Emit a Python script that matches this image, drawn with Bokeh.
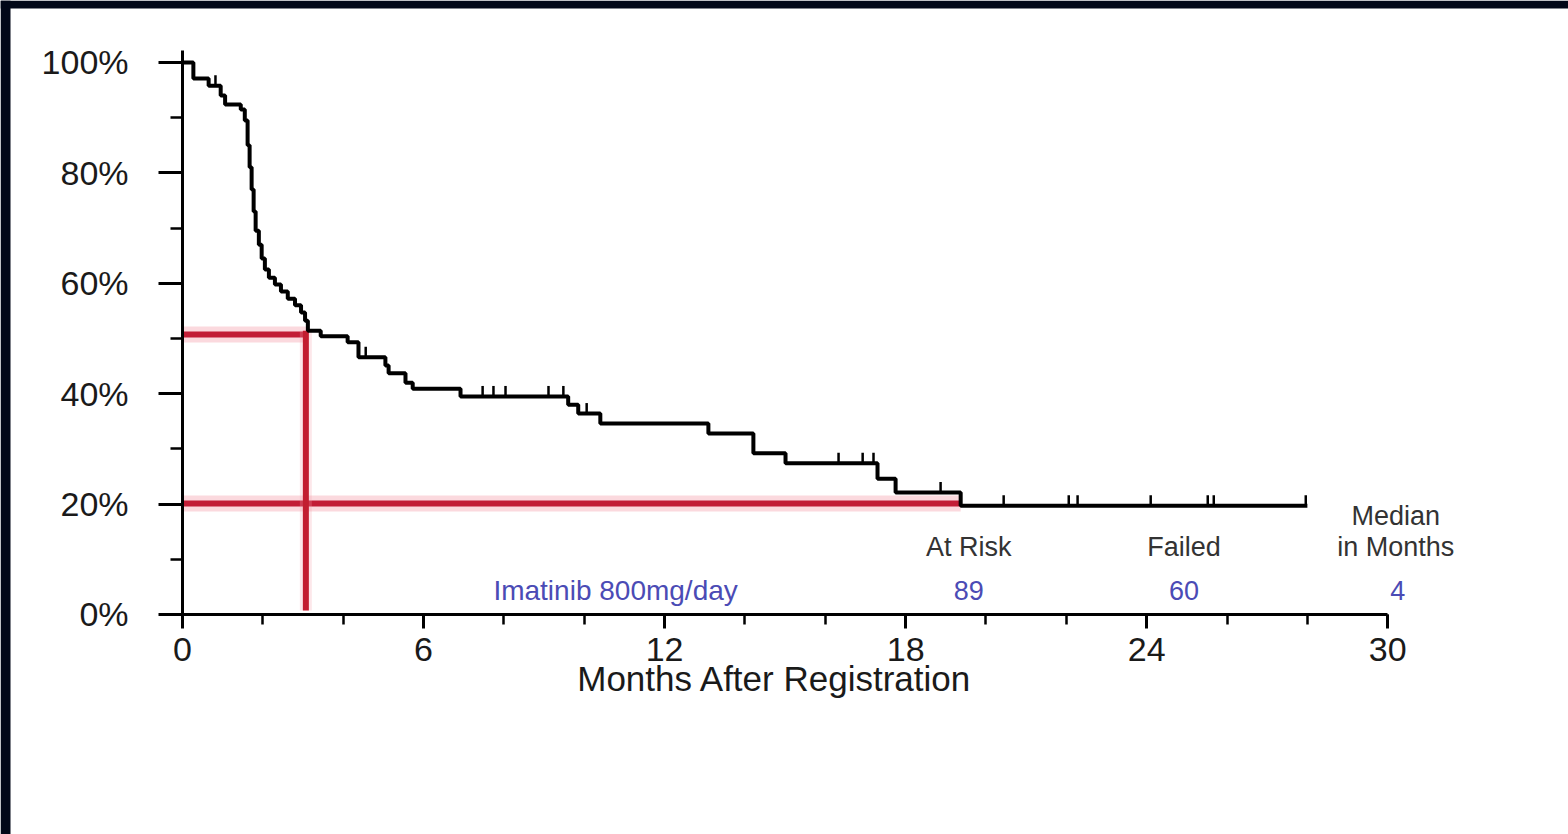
from bokeh.plotting import figure
from bokeh.models import (ColumnDataSource, Range1d, SingleIntervalTicker,
                          PrintfTickFormatter, BoxAnnotation)
from bokeh.core.properties import value
from bokeh.embed import file_html
from bokeh.resources import INLINE
import numpy as np

# ---------------- data ----------------
event_months = [0, 0.27, 0.65, 0.95, 1.06, 1.45, 1.55, 1.62, 1.67, 1.72, 1.77,
                1.82, 1.90, 1.97, 2.05, 2.15, 2.30, 2.45, 2.62, 2.80, 2.95,
                3.05, 3.12, 3.44, 4.11, 4.38, 5.05, 5.13, 5.55, 5.73, 6.92,
                9.60, 9.85, 10.40, 13.09, 14.21, 15.01, 17.30, 17.75, 19.37]
survival_pct = [100, 97.1, 95.8, 94.0, 92.4, 91.5, 89.5, 85.0, 81.0, 77.0, 73.0,
                69.5, 67.0, 64.5, 62.5, 61.0, 59.8, 58.5, 57.2, 56.0, 54.7,
                53.2, 51.4, 50.4, 49.3, 46.6, 45.1, 43.7, 42.0, 40.9, 39.5,
                38.0, 36.4, 34.6, 32.8, 29.2, 27.4, 24.6, 22.1, 19.7]
follow_up_end = 28.0
censor_months = [0.82, 4.56, 7.47, 7.74, 8.04, 9.11, 9.48, 10.06, 16.33, 16.93,
                 17.20, 18.87, 20.44, 22.06, 22.28, 24.10, 25.52, 25.67, 27.96]

# red guide lines
median_month = 3.07
median_pct = 50.7
median_top = 51.4
pct20 = 20.1
pct20_month = 19.37

# table
group_label = "Imatinib 800mg/day"
group_label_month = 10.78
table_headers = ["At Risk", "Failed", "Median", "in Months"]
table_header_x = [19.57, 24.93, 30.2, 30.2]
table_header_y = [12.3, 12.3, 17.75, 12.3]
table_values = ["89", "60", "4"]
table_value_x = [19.57, 24.93, 30.25]
row_y = 4.35

x_title = "Months After Registration"
x_title_pos = (14.74, -11.6)
x_ticks_interval = 6
y_ticks_interval = 20

# ---------------- styling / layout constants ----------------
DARK = "#020818"
FONT = "Liberation Sans"
BLUE = "#4b4bb5"
W, H = 1568, 834
X0, X1 = -4.531, 34.50          # month range spanning the whole canvas
Y0, Y1 = -39.86, 111.23         # percent range spanning the whole canvas
px_per_x = W / (X1 - X0)
px_per_y = H / (Y1 - Y0)
LEFT_BAND_PX, TOP_BAND_PX = 10, 8

p = figure(frame_width=W, frame_height=H, output_backend="svg",
           toolbar_location=None,
           x_range=Range1d(X0, X1), y_range=Range1d(Y0, Y1),
           min_border_left=0, min_border_right=0, min_border_top=0,
           min_border_bottom=0)
p.background_fill_color = "white"
p.border_fill_color = "white"
p.outline_line_color = None
p.grid.visible = False

# dark page bands (left and top)
p.add_layout(BoxAnnotation(right=X0 + LEFT_BAND_PX / px_per_x, fill_color=DARK,
                           fill_alpha=1, line_color=None))
p.add_layout(BoxAnnotation(bottom=Y1 - TOP_BAND_PX / px_per_y, fill_color=DARK,
                           fill_alpha=1, line_color=None))

# axes (fixed inside the frame at x=0 / y=0)
for ax in (p.xaxis[0], p.yaxis[0]):
    ax.fixed_location = 0
    ax.axis_line_color = "black"
    ax.axis_line_width = 3
    ax.major_tick_line_color = "black"
    ax.minor_tick_line_color = "black"
    ax.major_tick_line_width = 3
    ax.minor_tick_line_width = 2.5
    ax.major_tick_in = 0
    ax.minor_tick_in = 0
    ax.major_label_text_font = FONT
    ax.major_label_text_color = "#1a1a1a"

xa = p.xaxis[0]
xa.ticker = SingleIntervalTicker(interval=x_ticks_interval, num_minor_ticks=3)
xa.bounds = (0, 30)
xa.major_tick_out = 14
xa.minor_tick_out = 10
xa.major_label_text_font_size = "34px"
xa.major_label_standoff = 10

ya = p.yaxis[0]
ya.ticker = SingleIntervalTicker(interval=y_ticks_interval, num_minor_ticks=2)
ya.bounds = (0, 102.2)
ya.major_tick_out = 24
ya.minor_tick_out = 12
ya.major_label_text_font_size = "34px"
ya.major_label_standoff = 30
ya.formatter = PrintfTickFormatter(format="%d%%")

# red guide lines (with soft halo)
h50 = ColumnDataSource(dict(x=[0, median_month], y=[median_pct, median_pct]))
v50 = ColumnDataSource(dict(x=[median_month, median_month], y=[0.7, median_top]))
h20 = ColumnDataSource(dict(x=[0, pct20_month], y=[pct20, pct20]))
for src in (h50, h20):
    p.line("x", "y", source=src, line_color="#f4a0ac", line_width=16, line_alpha=0.4)
    p.line("x", "y", source=src, line_color="#c21d36", line_width=6)
p.line("x", "y", source=v50, line_color="#f4a0ac", line_width=12, line_alpha=0.25)
p.line("x", "y", source=v50, line_color="#c21d30", line_width=6)

# Kaplan-Meier curve
km_x = list(event_months) + [follow_up_end]
km_y = list(survival_pct) + [survival_pct[-1]]
p.step(km_x, km_y, mode="after", line_color="black", line_width=4)

# censor marks
ev = np.array(event_months)
sv = np.array(survival_pct)
c_t = np.array(censor_months)
c_s = sv[np.searchsorted(ev, c_t, side="right") - 1]
p.segment(x0=c_t, y0=c_s, x1=c_t, y1=c_s + 1.9, line_color="black", line_width=2.5)

# table texts
p.text(x=table_header_x, y=table_header_y, text=table_headers,
       text_font=value(FONT), text_font_size="27px", text_color="#333333",
       text_align="center", text_baseline="middle")
p.text(x=table_value_x, y=[row_y] * len(table_values), text=table_values,
       text_font=value(FONT), text_font_size="27px", text_color=BLUE,
       text_align="center", text_baseline="middle")
p.text(x=[group_label_month], y=[row_y], text=[group_label],
       text_font=value(FONT), text_font_size="28px", text_color=BLUE,
       text_align="center", text_baseline="middle")

# x-axis title
p.text(x=[x_title_pos[0]], y=[x_title_pos[1]], text=[x_title],
       text_font=value(FONT), text_font_size="35px", text_color="#1a1a1a",
       text_align="center", text_baseline="alphabetic")

open("out.html", "w").write(file_html(p, INLINE))
